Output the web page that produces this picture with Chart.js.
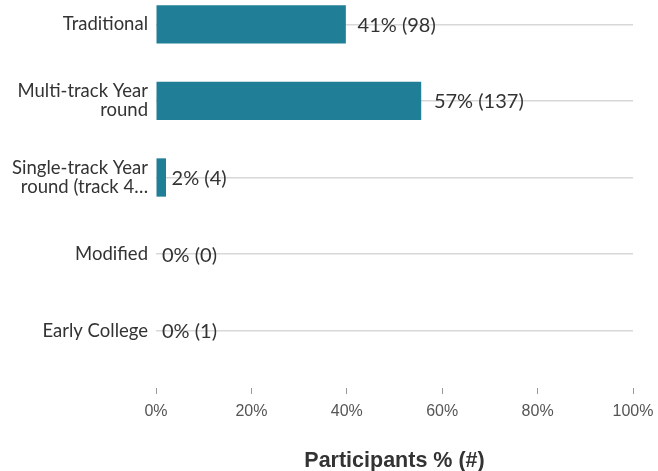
<!DOCTYPE html>
<html>
<head>
<meta charset="utf-8">
<script src="https://cdn.jsdelivr.net/npm/chart.js@4/dist/chart.umd.min.js"></script>
<style>
  html, body { margin: 0; padding: 0; background: #fff; overflow: hidden; }
  #wrap { position: absolute; left: 0; top: -14px; width: 658px; height: 488px; }
</style>
</head>
<body>
<div id="wrap"><canvas id="myChart"></canvas></div>
<script>
// categories, bar lengths as drawn, and the percent / count shown in each label
var categories = [
  'Traditional',
  ['Multi-track Year', 'round'],
  ['Single-track Year', 'round (track 4…'],
  'Modified',
  'Early College',
];
var barValues = [39.8, 55.6, 2.1, 0, 0];
var labelPercents = [41, 57, 2, 0, 0];
var labelCounts = [98, 137, 4, 0, 1];
var xTicks = [0, 20, 40, 60, 80, 100];

var barColor = '#217e97';

// writes "41% (98)" just past the true percentage
var valueLabels = {
  id: 'valueLabels',
  afterDatasetsDraw(chart) {
    var ctx = chart.ctx;
    var xScale = chart.scales.x;
    var meta = chart.getDatasetMeta(0);
    ctx.save();
    ctx.font = '20px Lato';
    ctx.fillStyle = '#333';
    ctx.textBaseline = 'middle';
    ctx.textAlign = 'left';
    meta.data.forEach(function (bar, i) {
      var x = xScale.getPixelForValue(labelPercents[i]) + 6;
      ctx.fillText(labelPercents[i] + '% (' + labelCounts[i] + ')', x, bar.y + 1);
    });
    ctx.restore();
  },
};

new Chart('myChart', {
  type: 'bar',
  data: {
    labels: categories,
    datasets: [
      {
        data: barValues,
        backgroundColor: barColor,
        barPercentage: 0.5,
        categoryPercentage: 1,
      },
    ],
  },
  options: {
    indexAxis: 'y',
    responsive: true,
    maintainAspectRatio: false,
    animation: false,
    layout: { padding: 0 },
    plugins: {
      legend: { display: false },
      tooltip: { enabled: false },
    },
    scales: {
      y: {
        border: { display: false },
        grid: {
          offset: false,
          drawTicks: false,
          color: '#d8d8d8',
          lineWidth: 1.5,
        },
        ticks: {
          padding: 8,
          color: '#333',
          font: { family: 'Lato', size: 18.5, lineHeight: 1.03 },
        },
        afterFit(scale) {
          scale.width = 156;
          scale.paddingTop = 0;
          scale.paddingBottom = 0;
        },
      },
      x: {
        min: 0,
        max: 100,
        border: { display: false },
        grid: {
          drawOnChartArea: false,
          drawTicks: true,
          tickLength: 25,
          tickColor: '#999',
          tickWidth: 1,
          tickBorderDash: [0, 19, 6, 100],
        },
        afterBuildTicks(scale) {
          scale.ticks = xTicks.map(function (v) { return { value: v }; });
        },
        afterFit(scale) {
          scale.paddingRight = 25;
        },
        ticks: {
          padding: 8,
          color: '#555',
          font: { family: 'Liberation Sans', size: 16 },
          callback: function (v) { return v + '%'; },
        },
        title: {
          display: true,
          text: 'Participants % (#)',
          color: '#333',
          font: { family: 'Liberation Sans', size: 21.5, weight: 'bold' },
          padding: { top: 19, bottom: 0 },
        },
      },
    },
  },
  plugins: [valueLabels],
});
</script>
</body>
</html>
